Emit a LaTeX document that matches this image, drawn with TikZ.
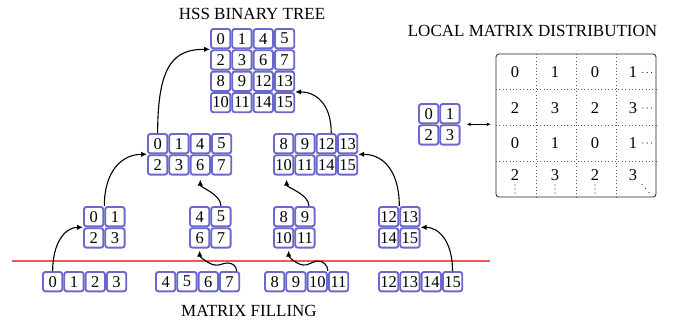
\documentclass[tikz,border=0pt]{standalone}
\usepackage{fontspec}
\setmainfont{Liberation Serif}
\usetikzlibrary{arrows.meta,calc}
\definecolor{cellblue}{RGB}{105,105,205}
\definecolor{redline}{RGB}{245,85,85}
\newcommand\cellblk[4]{\foreach \rr/\cc/\lbl in {#4}{\node[cellbox] (#1-\rr-\cc) at ({#2+(\cc-0.5)*21.3},{-(#3+(\rr-0.5)*21.3)}) {\lbl};}}
\begin{document}
\begin{tikzpicture}[x=1pt,y=1pt,
  cellbox/.style={draw=cellblue, line width=1.9pt, rounded corners=2.5pt, fill=white,
    minimum width=19.4pt, minimum height=19.4pt, inner sep=0pt, font=\fontsize{16.5}{16.5}\selectfont},
  arr/.style={-{Latex[length=6pt,width=5.5pt]}, line width=1.1pt},
  title/.style={font=\fontsize{17}{17}\selectfont, inner sep=0pt},
  ment/.style={inner sep=0pt, font=\fontsize{16.5}{16.5}\selectfont},
  mdiv/.style={black!65, line width=0.6pt, dash pattern=on 0.6pt off 2.8pt},
  dotc/.style={fill=black!80}]
\useasboundingbox (0,0) rectangle (689,-327);

% titles
\node[title] (t1) at (252,-14) {HSS BINARY TREE};
\node[title] (t2) at (532.5,-31) {LOCAL MATRIX DISTRIBUTION};
\node[title] (t3) at (249,-311) {MATRIX FILLING};

% red line
\draw[redline, line width=1.1pt] (12,-261) -- (490,-261);

% blocks
\cellblk{T}{210}{28}{1/1/0,1/2/1,1/3/4,1/4/5,2/1/2,2/2/3,2/3/6,2/4/7,3/1/8,3/2/9,3/3/12,3/4/13,4/1/10,4/2/11,4/3/14,4/4/15}
\cellblk{La}{147}{133}{1/1/0,1/2/1,1/3/4,1/4/5,2/1/2,2/2/3,2/3/6,2/4/7}
\cellblk{Lb}{273}{133}{1/1/8,1/2/9,1/3/12,1/4/13,2/1/10,2/2/11,2/3/14,2/4/15}
\cellblk{Ma}{83}{206}{1/1/0,1/2/1,2/1/2,2/2/3}
\cellblk{Mb}{189}{206}{1/1/4,1/2/5,2/1/6,2/2/7}
\cellblk{Mc}{273}{206}{1/1/8,1/2/9,2/1/10,2/2/11}
\cellblk{Md}{378}{206}{1/1/12,1/2/13,2/1/14,2/2/15}
\cellblk{Ba}{42}{271}{1/1/0,1/2/1,1/3/2,1/4/3}
\cellblk{Bb}{155}{271}{1/1/4,1/2/5,1/3/6,1/4/7}
\cellblk{Bc}{264}{271}{1/1/8,1/2/9,1/3/10,1/4/11}
\cellblk{Bd}{378}{271}{1/1/12,1/2/13,1/3/14,1/4/15}
\cellblk{S}{418}{103}{1/1/0,1/2/1,2/1/2,2/2/3}

% tree arrows
\draw[arr] (Ba-1-1.north) .. controls +(0,28) and +(-18,0) .. (Ma-1-1.south west);
\draw[arr] (Ma-1-1.north east) .. controls +(0,35) and +(-25,0) .. (La-1-1.south west);
\draw[arr] (La-1-1.north) .. controls +(0,70) and +(-35,0) .. (T-1-1.south west);
\draw[arr] ($(Lb-1-3.north)+(5,0)$) .. controls +(0,30) and +(20,0) .. (T-3-4.south east);
\draw[arr] (Md-1-1.north east) .. controls +(0,35) and +(25,0) .. (Lb-1-4.south east);
\draw[arr] (Bd-1-4.north) .. controls +(0,30) and +(18,0) .. (Md-1-2.south east);

% wavy arrows
\draw[arr, shorten >=2pt] ($(Bb-1-4.north)+(7,0)$) .. controls +(0,5) and +(5,0) .. ++(-9,8)
   .. controls +(-5,0) and +(5,-1) .. ++(-13,-2) .. controls +(-6,1) and +(0,-8) .. (Mb-2-1.south);
\draw[arr, shorten >=2pt] (Bc-1-3.north east) .. controls +(0,6) and +(5,0) .. ++(-10,10)
   .. controls +(-5,0) and +(5,-1) .. ++(-15,-4) .. controls +(-7,1) and +(0,-8) .. ($(Mc-2-1.south)+(5,0)$);
\draw[arr, shorten >=4pt] (Mb-1-2.north) .. controls +(0,12) and +(0,-12) .. (La-2-3.south);
\draw[arr, shorten >=4pt] ($(Mc-1-2.north)+(4,0)$) .. controls +(0,12) and +(0,-12) .. ($(Lb-2-1.south)+(3,0)$);

% local matrix
\node[draw=black!85, rounded corners=3pt, line width=0.8pt, minimum width=160pt, minimum height=143pt, inner sep=0pt, outer sep=0pt] (M) at (576,-125.5) {};
\foreach \i in {1,2,3}{
  \draw[mdiv] ($(M.north west)+(40*\i,0)$) -- ($(M.south west)+(40*\i,0)$);
  \draw[mdiv] ($(M.north west)+(0,-35.75*\i)$) -- ($(M.north east)+(0,-35.75*\i)$);
}
\foreach \rr/\yy/\aa/\bb in {1/72.5/0/1, 2/108/2/3, 3/143/0/1, 4/175.5/2/3}{
  \node[ment] (m-\rr-1) at (515,-\yy) {\aa};
  \node[ment] (m-\rr-2) at (555,-\yy) {\bb};
  \node[ment] (m-\rr-3) at (595,-\yy) {\aa};
  \node[ment] (m-\rr-4) at (633,-\yy) {\bb};
}
\foreach \rr in {1,2,3}{
  \foreach \dx in {0,4.3,8.6}{
    \fill[dotc] ($(m-\rr-4.east)+(5.5+\dx,0)$) circle (0.65pt);
  }
}
\foreach \cc in {1,2,3}{
  \foreach \dy in {185,189,193}{
    \fill[dotc] (m-4-\cc |- 0,-\dy) circle (0.65pt);
  }
}
\fill[dotc] (642,-184.5) circle (0.65pt);
\fill[dotc] (645.5,-188.5) circle (0.65pt);
\fill[dotc] (649,-192.5) circle (0.65pt);

% double arrow
\draw[{Stealth[length=4pt,width=3.5pt]}-{Stealth[length=4pt,width=3.5pt]}, line width=0.8pt, shorten <=6.5pt, shorten >=5.5pt]
  (S-1-2.south east) -- (S-1-2.south east -| M.west);
\end{tikzpicture}
\end{document}
